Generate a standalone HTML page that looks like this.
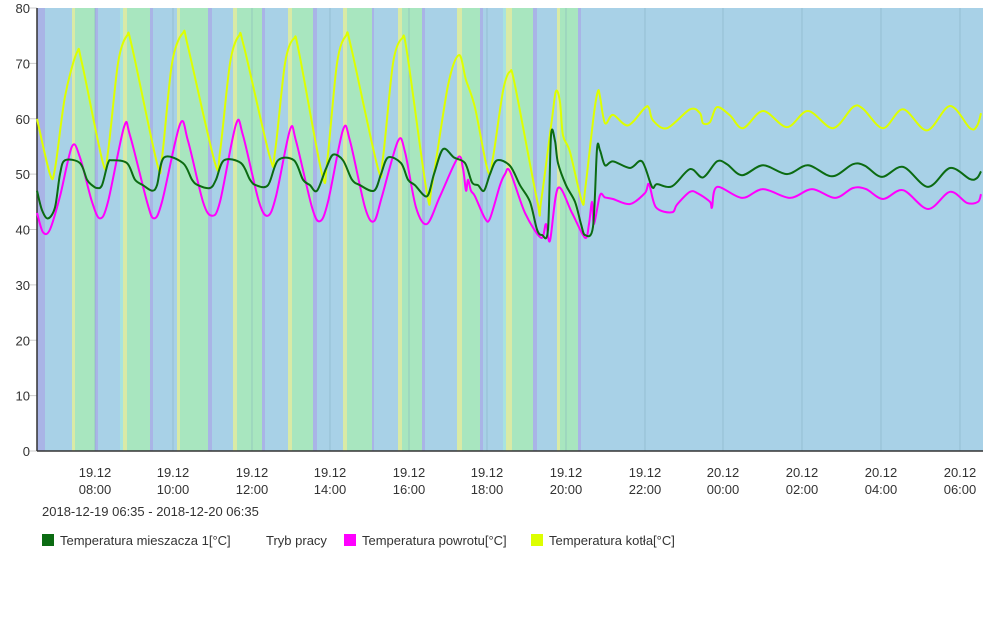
<!DOCTYPE html>
<html><head><meta charset="utf-8"><style>
body{margin:0;background:#fff;font-family:"Liberation Sans",sans-serif;}
svg text{font-family:"Liberation Sans",sans-serif;fill:#333;font-size:13px;}
</style></head><body>
<svg id="s" width="1000" height="626" xmlns="http://www.w3.org/2000/svg">
<g id="bands"></g>
<g id="grid"></g>
<line x1="37" y1="8" x2="37" y2="451" stroke="#333" stroke-width="1.5"/>
<line x1="37" y1="451" x2="983" y2="451" stroke="#333" stroke-width="1.5"/>
<g id="yl"></g>
<g id="xl"></g>
<g id="ser"></g>
<text x="42" y="516" style="font-size:13px">2018-12-19 06:35 - 2018-12-20 06:35</text>
<rect x="42" y="534" width="12" height="12" fill="#0b6b12"/>
<text x="60" y="545">Temperatura mieszacza 1[°C]</text>
<text x="266" y="545">Tryb pracy</text>
<rect x="344" y="534" width="12" height="12" fill="#ff00ff"/>
<text x="362" y="545">Temperatura powrotu[°C]</text>
<rect x="531" y="534" width="12" height="12" fill="#ddff00"/>
<text x="549" y="545">Temperatura kotła[°C]</text>
</svg>
<script>
var NS="http://www.w3.org/2000/svg";
function el(p,t,a){var e=document.createElementNS(NS,t);for(var k in a)e.setAttribute(k,a[k]);p.appendChild(e);return e;}
var B="#a8d1e7",G="#a8e6bf",Y="#d9eaa6",P="#a9b4e6",C="#a8e3df";
var bands=[[37,45,P],[45,72,B],[72,75,Y],[75,95,G],[95,98,P],[98,120,B],[120,123,C],[123,127,Y],[127,150,G],[150,153,P],[153,177,B],[177,180,Y],[180,208,G],[208,212,P],[212,233,B],[233,237,Y],[237,262,G],[262,265,P],[265,288,B],[288,292,Y],[292,313,G],[313,317,P],[317,343,B],[343,347,Y],[347,372,G],[372,374,P],[374,398,B],[398,402,Y],[402,422,G],[422,425,P],[425,457,B],[457,462,Y],[462,480,G],[480,483,P],[483,503,B],[503,506,C],[506,512,Y],[512,533,G],[533,537,P],[537,557,B],[557,560,Y],[560,578,G],[578,581,P],[581,983,B]];
var bg=document.getElementById("bands");
bands.forEach(function(b){el(bg,"rect",{x:b[0],y:8,width:b[1]-b[0],height:443,fill:b[2]});});
var gr=document.getElementById("grid"),xl=document.getElementById("xl"),yl=document.getElementById("yl");
for(var v=0;v<=80;v+=10){var y=451-5.5375*v;el(gr,"line",{x1:28,x2:37,y1:y,y2:y,stroke:"#ccc"});var t=el(yl,"text",{x:30,y:y+5,"text-anchor":"end"});t.textContent=v;}
var xs=[95,173,252,330,409,487,566,645,723,802,881,960];
var lab=[["19.12","08:00"],["19.12","10:00"],["19.12","12:00"],["19.12","14:00"],["19.12","16:00"],["19.12","18:00"],["19.12","20:00"],["19.12","22:00"],["20.12","00:00"],["20.12","02:00"],["20.12","04:00"],["20.12","06:00"]];
xs.forEach(function(x,i){el(gr,"line",{x1:x,x2:x,y1:8,y2:451,stroke:"#7fa9bd","stroke-width":0.8,opacity:0.6});
var t=el(xl,"text",{x:x,y:477,"text-anchor":"middle"});t.textContent=lab[i][0];
var t2=el(xl,"text",{x:x,y:494,"text-anchor":"middle"});t2.textContent=lab[i][1];});
function Y2(v){return 451-5.5375*v;}
var yel=[[37,60],[50,50],[55,51],[65,64],[77,72],[82,70],[103,52],[108,54],[118,70],[127,75],[132,73],[157,52],[162,53],[172,70],[183,75.5],[188,73],[215,52],[220,54],[230,70],[239,75],[244,73],[270,53],[275,54],[285,70],[294,74.5],[299,72],[322,50],[327,52],[337,70],[346,75],[351,73],[378,51],[383,53],[393,70],[402,74.5],[407,72],[427,46.5],[432,48],[448,66],[459,71.5],[466,67],[475,62],[488,50.5],[493,53],[503,65],[510,68.5],[515,66],[538,44.5],[541,45],[552,60],[556,65],[560,63],[563,57],[570,54],[582,45],[585,47],[594,61],[598,65],[600,64],[605,59.2],[613,60.7],[628,58.8],[645,62],[649,61.9],[653,59.7],[667,58.3],[690,61.7],[700,61],[703,59.2],[710,59.4],[717,62.1],[730,60.6],[743,58.3],[763,61.4],[787,58.5],[808,61.4],[833,58.3],[853,62.1],[863,61.8],[883,58.3],[903,61.7],[927,57.9],[950,62.3],[970,58.3],[977,58.7],[981,61]];
var grn=[[37,47],[42,43.5],[48,42],[55,44],[60,50],[65,52.5],[80,52],[87,49],[92,48],[97,47.5],[102,48],[108,52],[112,52.5],[127,52],[135,49],[143,48],[152,47],[157,48],[164,53],[183,52],[192,49],[198,48],[210,47.5],[216,49],[224,52.5],[241,52],[250,49],[256,48],[268,48],[278,52.5],[294,52.5],[303,49],[310,48],[317,47],[326,51],[333,53.5],[343,52.5],[352,49],[360,48],[374,47],[381,50],[388,53],[401,52],[408,49],[415,48],[427,46],[434,50],[443,54.5],[454,53],[465,52],[472,48.5],[478,48],[484,47],[490,50],[497,52.5],[510,51.5],[520,48],[530,45],[537,40],[542,39],[548,40],[551,57],[555,56],[558,52],[566,48],[575,45],[581,41],[585,39],[593,40.5],[597,54.5],[600,54.3],[605,51.6],[613,52.3],[630,51.1],[642,52.3],[652,47.7],[657,48.2],[672,47.8],[690,50.9],[703,49.4],[717,52.3],[727,51.8],[742,49.8],[763,51.6],[787,50],[808,51.6],[832,49.6],[853,51.8],[865,51.5],[882,49.5],[903,51.3],[928,47.7],[950,51.1],[970,49.1],[977,49.3],[981,50.5]];
var mag=[[37,43],[43,39.5],[50,40],[60,46],[72,55],[80,53],[92,45],[100,42],[108,45],[124,58.5],[130,57],[147,45],[154,42],[162,45],[180,59],[188,56],[203,45],[212,42.5],[220,45],[236,59],[243,57],[259,45],[268,42.5],[276,46],[290,58],[296,56],[312,44],[320,41.5],[328,45],[343,58],[350,56],[365,44],[374,41.5],[382,46],[398,56],[405,54],[416,44],[427,41],[440,46],[458,53],[463,51],[466,47],[468,49],[471,47],[475,46],[485,42],[490,42],[500,48],[505,50],[510,50.5],[525,43],[541,38.5],[546,41],[550,38],[558,47.5],[572,43],[585,38.5],[589,41],[592,45],[594,41],[600,46.2],[605,45.8],[613,45.5],[630,44.6],[645,46.6],[649,48.2],[656,44],[672,43.1],[677,44.5],[690,46.8],[698,46.5],[710,45],[712,44],[717,47.7],[742,45.7],[763,47.3],[790,45.7],[812,47.3],[835,45.7],[853,47.5],[866,47.3],[883,45.5],[903,47.1],[928,43.7],[950,46.8],[967,44.8],[978,45],[981,46.4]];
var sr=document.getElementById("ser");
function line(pts,c){
  var p=pts.map(function(q){return [q[0],Y2(q[1])];});
  var d="M"+p[0][0]+","+p[0][1].toFixed(1);
  for(var i=0;i<p.length-1;i++){
    var p0=p[Math.max(0,i-1)],p1=p[i],p2=p[i+1],p3=p[Math.min(p.length-1,i+2)];
    var k=0.16;
    var c1x=p1[0]+(p2[0]-p0[0])*k,c1y=p1[1]+(p2[1]-p0[1])*k;
    var c2x=p2[0]-(p3[0]-p1[0])*k,c2y=p2[1]-(p3[1]-p1[1])*k;
    if(c1x>p2[0])c1x=p2[0];if(c2x<p1[0])c2x=p1[0];
    d+=" C"+c1x.toFixed(1)+","+c1y.toFixed(1)+" "+c2x.toFixed(1)+","+c2y.toFixed(1)+" "+p2[0]+","+p2[1].toFixed(1);
  }
  el(sr,"path",{d:d,fill:"none",stroke:c,"stroke-width":2,"stroke-linejoin":"round"});
}
line(yel,"#ddff00");line(mag,"#ff00ff");line(grn,"#0b6b12");
</script>
</body></html>
